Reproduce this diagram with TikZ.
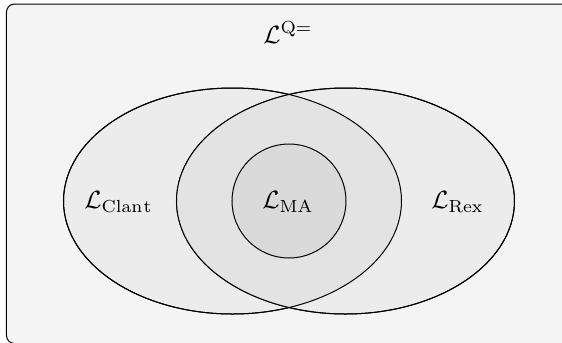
\documentclass[tikz,border=0pt]{standalone}
\usetikzlibrary{shapes.geometric}
\definecolor{bgc}{HTML}{F4F4F4}
\definecolor{ellc}{HTML}{EBECEB}
\definecolor{midc}{HTML}{E3E3E3}
\definecolor{inc}{HTML}{DADADA}
\begin{document}
\begin{tikzpicture}[x=0.4pt,y=-0.4pt,
  outl/.style={draw=black, line width=0.4pt},
  setell/.style={ellipse, outl, inner sep=0pt, minimum width=135.2pt, minimum height=90.4pt},
  lbl/.style={inner sep=0pt, font=\normalsize}]
\useasboundingbox (0,0) rectangle (562,342);
\begin{scope}
\clip (0,0) rectangle (562,342);
\node (frame) [rectangle, outl, fill=bgc, rounded corners=3.2pt, minimum width=229.4pt, minimum height=135.8pt] at (293.25,173.75) {};
\end{scope}
% fills
\node (clant) [setell, fill=ellc] at (232.5,201) {};
\node (rex) [setell, fill=ellc] at (345.5,201) {};
\begin{scope}
  \clip (232.5,201) ellipse [x radius=169, y radius=113];
  \fill[midc] (345.5,201) ellipse [x radius=169, y radius=113];
\end{scope}
\node (ma) [circle, outl, fill=inc, inner sep=0pt, minimum size=45.6pt] at (289,201) {};
% outlines again on top
\draw[outl] (clant.center) ellipse [x radius=169, y radius=113];
\draw[outl] (rex.center) ellipse [x radius=169, y radius=113];
% labels
\node (lq) [lbl] at (288,32.5) {$\mathcal{L}^{\mathrm{Q=}}$};
\node (lclant) [lbl] at (118.5,202) {$\mathcal{L}_{\mathrm{Clan}\mkern1mu\mathrm{t}}$};
\node (lma) [lbl] at (288,202) {$\mathcal{L}_{\mathrm{MA}}$};
\node (lrex) [lbl] at (457.5,202) {$\mathcal{L}_{\mathrm{Rex}}$};
\end{tikzpicture}
\end{document}
